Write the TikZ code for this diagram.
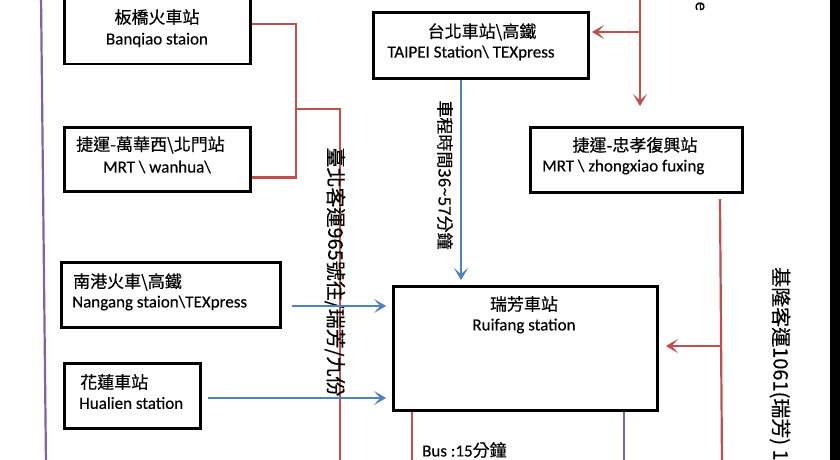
\documentclass[tikz,border=0pt]{standalone}
\usepackage{fontspec}
\setmainfont[FakeBold=0.3]{Carlito}
\newfontfamily\cjk[FakeBold=0.3]{Noto Sans CJK TC}
\usetikzlibrary{arrows.meta}
\definecolor{cred}{HTML}{C0504D}
\definecolor{cblue}{HTML}{4F81BD}
\definecolor{cpurple}{HTML}{8064A2}
\begin{document}
\begin{tikzpicture}[x=1pt,y=-1pt,
  box/.style={draw=black, line width=2.8pt, inner sep=0pt},
  txt/.style={inner sep=0pt, font=\fontsize{17}{20}\selectfont},
  vlab/.style={inner sep=0pt, rotate=-90},
  redl/.style={draw=cred, line width=2.2pt},
  bluel/.style={draw=cblue, line width=2.2pt},
  purl/.style={draw=cpurple, line width=2.2pt},
  tip/.style={-{Stealth[length=12pt,width=14pt,inset=6pt]}}]
\useasboundingbox (0,0) rectangle (840,460);
\fill[white] (0,0) rectangle (840,460);
% boxes
\node[box, minimum width=186pt, minimum height=80pt] (banqiao) at (157.5,24) {};
\node[box, minimum width=186pt, minimum height=64pt] (wanhua) at (157.5,159.5) {};
\node[box, minimum width=219pt, minimum height=65pt] (nangang) at (171,295) {};
\node[box, minimum width=136pt, minimum height=65pt] (hualien) at (132.5,396) {};
\node[box, minimum width=215pt, minimum height=66pt] (taipei) at (481,45.5) {};
\node[box, minimum width=212pt, minimum height=65pt] (zhongxiao) at (636.5,160) {};
\node[box, minimum width=264pt, minimum height=124pt] (ruifang) at (525.5,348.5) {};
% box texts
\node[txt] (t1a) at (157,17) {\cjk 板橋火車站};
\node[txt] (t1b) at (157,40) {Banqiao staion};
\node[txt, anchor=west] (t2a) at (76,145) {\cjk 捷運-萬華西\textbackslash 北門站};
\node[txt] (t2b) at (157,167) {MRT \textbackslash{} wanhua\textbackslash};
\node[txt, anchor=west] (t3a) at (73,282) {\cjk 南港火車\textbackslash 高鐵};
\node[txt, anchor=west] (t3b) at (72,303) {Nangang staion\textbackslash TEXpress};
\node[txt, anchor=west] (t4a) at (80,382) {\cjk 花蓮車站};
\node[txt, anchor=west] (t4b) at (79,403) {Hualien station};
\node[txt] (t5a) at (482,32) {\cjk 台北車站\textbackslash 高鐵};
\node[txt] (t5b) at (471,53) {TAIPEI Station\textbackslash{} TEXpress};
\node[txt] (t6a) at (635,145) {\cjk 捷運-忠孝復興站};
\node[txt, anchor=west] (t6b) at (542,167) {MRT \textbackslash{} zhongxiao fuxing};
\node[txt] (t7a) at (524,304) {\cjk 瑞芳車站};
\node[txt] (t7b) at (524,326) {Ruifang station};
% left purple line and right black strip
\coordinate (ptop) at (41,-5);
\coordinate (pbot) at (46,465);
\draw[purl] (ptop) -- (pbot);
\fill[black] (830,-2) rectangle (842,462);
% red: Banqiao / Wanhua to bus 965
\coordinate (j1) at (296,109);
\coordinate (b965) at (340,465);
\coordinate (w1) at ([yshift=-18pt]wanhua.east);
\draw[redl] (banqiao.east) -- (banqiao.east -| j1) -- (j1 |- w1) -- (w1);
\draw[redl] (j1) -- (j1 -| b965) -- (b965);
\node[vlab, font=\cjk\fontsize{20}{20}\selectfont] (l965) at (335,272) {臺北客運965號往/瑞芳/九份};
% red top
\coordinate (rtop) at (640,-5);
\coordinate (rj) at (640,32);
\draw[redl, tip, shorten >=20pt] (rtop) -- (rtop |- zhongxiao.north);
\draw[redl, tip, shorten >=2pt] (rj) -- (rj -| taipei.east);
\node[vlab, anchor=east, font=\fontsize{18}{18}\selectfont] (le) at (700,11) {e};
% blue Taipei -> Ruifang
\coordinate (ts) at ([xshift=-20pt]taipei.south);
\draw[bluel, tip, shorten >=5pt] (ts) -- (ts |- ruifang.north);
\node[vlab, font=\cjk\fontsize{17}{17}\selectfont] (ltime) at (445,175) {車程時間36\textasciitilde 57分鐘};
% blue Nangang / Hualien -> Ruifang
\coordinate (ne) at ([xshift=10pt,yshift=-11pt]nangang.east);
\coordinate (he) at ([xshift=6pt,yshift=-2pt]hualien.east);
\draw[bluel, tip, shorten >=6pt] (ne) -- (ne -| ruifang.west);
\draw[bluel, tip, shorten >=6pt] (he) -- (he -| ruifang.west);
% red right, bus 1061
\coordinate (rr) at (720,199);
\coordinate (rrb) at (722,465);
\coordinate (rj2) at (720,346);
\draw[redl] (rr) -- (rrb);
\draw[redl, tip, shorten >=7pt] (rj2) -- (rj2 -| ruifang.east);
\node[vlab, anchor=west, font=\cjk\fontsize{20}{20}\selectfont] (l1061) at (780,267) {基隆客運1061(瑞芳) 10};
% bottom lines
\coordinate (rbot) at (412,465);
\coordinate (pbot2) at (624,465);
\draw[redl] (rbot |- ruifang.south) -- (rbot);
\draw[purl] (pbot2 |- ruifang.south) -- (pbot2);
\node[txt, anchor=west] (lbus) at (422,450) {Bus :15{\cjk 分鐘}};
\end{tikzpicture}
\end{document}
